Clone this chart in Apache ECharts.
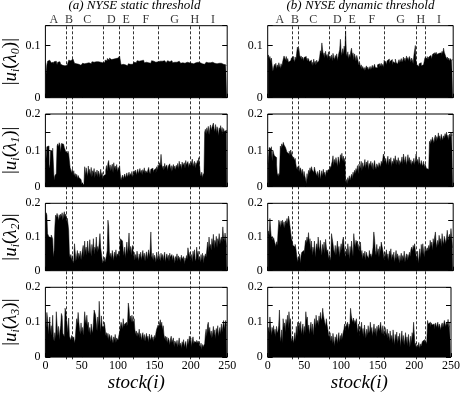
<!DOCTYPE html>
<html>
<head>
<meta charset="utf-8">
<script src="https://cdn.jsdelivr.net/npm/echarts@6/dist/echarts.min.js"></script>
<style>
html, body { margin: 0; padding: 0; background: #fff; }
#chart { width: 463px; height: 393px; }
</style>
</head>
<body>
<div id="chart"></div>
<script>
/* |u_i(lambda_0)| */
var staticL0 = [
  .066,.045,.062,.070,.068,.072,.069,.071,.067,.070, .068,.064,.069,.066,.070,.067,.063,.068,.065,.069,
  .066,.064,.067,.062,.065,.063,.061,.064,.060,.062, .063,.061,.072,.074,.071,.073,.070,.074,.072,.073,
  .066,.063,.065,.062,.066,.064,.063,.066,.062,.065, .064,.066,.063,.065,.067,.064,.066,.063,.065,.067,
  .066,.068,.065,.067,.069,.066,.068,.070,.067,.069, .068,.066,.069,.067,.070,.068,.066,.069,.067,.068,
  .070,.068,.072,.074,.071,.075,.073,.072,.076,.074, .073,.075,.072,.074,.076,.073,.075,.077,.074,.076,
  .078,.075,.080,.077,.063,.061,.064,.062,.065,.063, .062,.064,.061,.063,.065,.062,.064,.063,.061,.064,
  .063,.065,.068,.070,.067,.069,.071,.068,.070,.072, .069,.071,.068,.070,.072,.069,.067,.070,.068,.071,
  .069,.067,.070,.068,.066,.069,.071,.068,.070,.067, .069,.068,.070,.067,.069,.071,.068,.070,.069,.068,
  .070,.068,.069,.071,.068,.070,.067,.069,.071,.068, .069,.070,.068,.071,.069,.067,.070,.068,.069,.070,
  .068,.069,.067,.070,.068,.069,.066,.068,.067,.069, .068,.066,.069,.067,.068,.066,.069,.067,.065,.068,
  .066,.068,.067,.065,.068,.066,.067,.069,.066,.068, .067,.065,.067,.066,.068,.065,.067,.066,.064,.067,
  .066,.068,.065,.067,.066,.064,.067,.065,.066,.068, .065,.067,.066,.064,.066,.065,.067,.064,.066,.065,
  .064,.066,.063,.065,.064,.062,.064,.063,.061,.062
];
var dynamicL0 = [
  .078,.082,.074,.079,.070,.076,.062,.050,.058,.064, .060,.066,.055,.063,.058,.067,.061,.056,.065,.059,
  .068,.074,.080,.077,.072,.079,.070,.075,.068,.066, .071,.069,.076,.073,.079,.074,.068,.078,.072,.085,
  .097,.090,.094,.082,.076,.080,.073,.078,.071,.077, .074,.079,.072,.076,.070,.075,.069,.066,.072,.063,
  .068,.061,.074,.065,.070,.062,.072,.067,.064,.071, .078,.090,.084,.105,.092,.080,.086,.076,.089,.079,
  .083,.075,.088,.072,.080,.074,.082,.070,.085,.077, .073,.081,.076,.084,.071,.079,.086,.092,.112,.088,
  .081,.094,.083,.099,.090,.128,.085,.079,.088,.074, .083,.077,.089,.095,.080,.086,.072,.084,.078,.070,
  .081,.075,.069,.062,.066,.058,.063,.055,.060,.054, .058,.052,.057,.061,.055,.059,.053,.056,.060,.054,
  .058,.062,.056,.060,.064,.058,.061,.057,.063,.060, .065,.059,.062,.066,.060,.064,.058,.072,.066,.070,
  .063,.071,.068,.074,.065,.070,.067,.073,.062,.069, .072,.066,.074,.068,.071,.064,.069,.073,.067,.070,
  .075,.068,.072,.078,.070,.076,.069,.080,.073,.077, .071,.079,.074,.068,.076,.072,.065,.081,.091,.100,
  .068,.063,.066,.060,.065,.062,.067,.061,.064,.063, .066,.062,.077,.080,.075,.079,.073,.078,.076,.081,
  .078,.074,.083,.080,.086,.082,.079,.087,.083,.081, .085,.088,.082,.086,.080,.089,.084,.095,.087,.083,
  .081,.074,.078,.072,.076,.070,.075,.073,.071,.074
];
/* |u_i(lambda_1)| */
var staticL1 = [
  .068,.072,.110,.105,.112,.062,.048,.100,.104,.098, .106,.101,.018,.030,.025,.036,.112,.118,.109,.121,
  .115,.095,.119,.123,.117,.120,.108,.112,.096,.100, .092,.098,.090,.094,.052,.046,.038,.048,.032,.044,
  .030,.036,.026,.034,.022,.031,.025,.028,.020,.024, .008,.012,.006,.010,.055,.030,.052,.040,.028,.057,
  .035,.048,.030,.053,.026,.044,.038,.050,.024,.041, .032,.046,.027,.043,.036,.025,.048,.030,.039,.022,
  .030,.026,.034,.045,.058,.042,.065,.072,.048,.060, .043,.055,.062,.038,.066,.050,.057,.045,.061,.040,
  .053,.046,.058,.035,.018,.025,.032,.022,.028,.035, .024,.031,.038,.026,.033,.040,.028,.036,.030,.042,
  .027,.034,.044,.038,.046,.032,.041,.048,.035,.043, .050,.037,.045,.033,.047,.040,.052,.036,.044,.049,
  .038,.046,.053,.041,.035,.048,.043,.051,.039,.045, .042,.050,.037,.055,.046,.060,.052,.066,.058,.089,
  .062,.050,.057,.045,.064,.053,.048,.060,.044,.056, .051,.063,.047,.058,.042,.055,.061,.049,.057,.046,
  .059,.052,.064,.048,.070,.055,.062,.047,.068,.058, .053,.066,.050,.072,.060,.056,.069,.052,.064,.058,
  .062,.067,.076,.055,.063,.070,.051,.066,.059,.072, .064,.080,.058,.035,.028,.040,.024,.036,.030,.150,
  .158,.145,.162,.150,.166,.142,.158,.170,.155,.163, .168,.175,.160,.152,.171,.148,.165,.158,.140,.162,
  .155,.168,.150,.163,.145,.160,.152,.148,.155,.150
];
var dynamicL1 = [
  .062,.078,.108,.112,.104,.110,.070,.100,.092,.085, .088,.080,.060,.030,.036,.028,.040,.112,.105,.118,
  .110,.122,.115,.120,.108,.113,.095,.100,.090,.098, .086,.101,.092,.088,.076,.082,.072,.078,.062,.048,
  .055,.044,.058,.040,.052,.046,.035,.048,.025,.042, .030,.022,.008,.036,.020,.045,.038,.052,.041,.055,
  .046,.050,.039,.054,.044,.049,.030,.042,.024,.038, .046,.020,.035,.044,.028,.048,.032,.040,.026,.045,
  .038,.046,.042,.048,.056,.050,.062,.070,.085,.058, .075,.064,.080,.068,.055,.082,.072,.060,.088,.076,
  .092,.070,.084,.065,.078,.010,.020,.008,.025,.015, .030,.018,.026,.034,.022,.040,.030,.045,.036,.050,
  .042,.058,.035,.062,.048,.055,.070,.044,.066,.052, .060,.075,.050,.068,.057,.072,.046,.064,.058,.070,
  .052,.066,.045,.061,.072,.055,.048,.063,.058,.052, .066,.060,.054,.070,.062,.075,.090,.082,.068,.078,
  .060,.072,.084,.058,.076,.065,.080,.055,.070,.062, .078,.068,.085,.060,.074,.066,.080,.058,.072,.064,
  .070,.082,.061,.090,.075,.066,.083,.059,.072,.088, .068,.080,.062,.074,.058,.070,.064,.078,.060,.072,
  .090,.068,.075,.060,.082,.066,.058,.072,.062,.056, .070,.052,.062,.058,.050,.054,.048,.052,.125,.118,
  .130,.122,.136,.128,.120,.135,.142,.126,.138,.130, .148,.132,.140,.126,.144,.135,.128,.140,.133,.146,
  .138,.150,.134,.142,.128,.145,.137,.150,.140,.143
];
/* |u_i(lambda_2)| */
var staticL2 = [
  .152,.172,.165,.110,.108,.100,.104,.098,.106,.102, .095,.040,.060,.130,.165,.158,.170,.162,.148,.166,
  .155,.168,.160,.172,.150,.165,.175,.158,.168,.145, .156,.140,.120,.052,.038,.048,.030,.045,.022,.030,
  .080,.055,.028,.045,.060,.035,.052,.040,.058,.032, .048,.062,.075,.040,.088,.055,.070,.045,.088,.060,
  .050,.092,.065,.042,.078,.058,.095,.048,.070,.062, .100,.055,.072,.060,.082,.110,.068,.052,.035,.022,
  .030,.040,.025,.035,.045,.060,.150,.132,.058,.040, .052,.035,.060,.045,.030,.055,.042,.062,.038,.050,
  .044,.058,.036,.095,.090,.092,.088,.060,.045,.070, .038,.062,.085,.048,.075,.112,.058,.072,.045,.068,
  .075,.040,.055,.030,.048,.035,.058,.042,.028,.050, .036,.055,.032,.046,.060,.038,.052,.028,.045,.056,
  .034,.048,.062,.040,.058,.115,.045,.035,.052,.030, .046,.038,.025,.055,.040,.032,.050,.045,.028,.052,
  .038,.048,.030,.044,.055,.026,.040,.050,.034,.046, .028,.052,.040,.035,.048,.030,.045,.038,.022,.042,
  .036,.050,.028,.044,.032,.040,.025,.046,.034,.030, .042,.020,.038,.028,.045,.035,.068,.070,.040,.055,
  .030,.048,.025,.058,.040,.062,.035,.028,.070,.045, .058,.032,.040,.025,.048,.030,.052,.022,.045,.035,
  .050,.040,.062,.085,.055,.100,.070,.078,.060,.095, .075,.108,.065,.090,.080,.102,.068,.095,.085,.110,
  .078,.092,.100,.085,.130,.098,.088,.112,.095,.070
];
var dynamicL2 = [
  .112,.118,.105,.155,.120,.095,.102,.090,.098,.088, .080,.072,.086,.075,.118,.150,.142,.128,.148,.135,
  .150,.130,.145,.125,.148,.140,.155,.138,.162,.150, .132,.128,.095,.088,.075,.080,.070,.078,.065,.048,
  .025,.040,.030,.050,.022,.045,.055,.050,.060,.048, .070,.090,.082,.100,.085,.113,.078,.095,.060,.088,
  .045,.070,.055,.088,.040,.065,.080,.060,.100,.072, .058,.090,.066,.045,.078,.060,.085,.050,.093,.070,
  .055,.062,.035,.048,.030,.042,.110,.095,.080,.062, .050,.075,.045,.068,.088,.055,.072,.040,.065,.080,
  .060,.090,.100,.070,.052,.038,.065,.045,.080,.058, .035,.072,.050,.088,.062,.042,.110,.085,.070,.090,
  .082,.088,.060,.078,.055,.085,.045,.060,.035,.052, .040,.058,.030,.055,.045,.048,.036,.060,.042,.050,
  .038,.052,.070,.115,.095,.060,.045,.078,.052,.065, .040,.072,.055,.085,.090,.062,.048,.030,.055,.040,
  .062,.035,.050,.028,.058,.045,.065,.032,.048,.038, .055,.025,.042,.060,.035,.050,.030,.045,.022,.040,
  .052,.028,.045,.035,.058,.025,.040,.050,.030,.048, .036,.055,.042,.062,.070,.058,.075,.065,.080,.060,
  .045,.030,.058,.022,.042,.065,.035,.078,.050,.080, .060,.040,.072,.055,.050,.068,.058,.075,.062,.090,
  .070,.085,.060,.095,.078,.100,.115,.082,.068,.090, .075,.105,.085,.095,.070,.110,.088,.078,.102,.092,
  .080,.098,.120,.090,.085,.108,.095,.125,.100,.068
];
/* |u_i(lambda_3)| */
var staticL3 = [
  .100,.085,.128,.110,.065,.095,.115,.070,.090,.062, .120,.058,.045,.070,.052,.130,.125,.060,.088,.050,
  .075,.090,.125,.118,.068,.072,.058,.140,.132,.110, .105,.070,.112,.060,.055,.048,.062,.050,.045,.058,
  .040,.052,.048,.110,.095,.128,.100,.080,.065,.098, .072,.085,.062,.090,.130,.108,.095,.120,.088,.100,
  .070,.085,.062,.095,.078,.068,.100,.135,.140,.120, .098,.075,.115,.088,.160,.105,.072,.118,.090,.095,
  .082,.100,.085,.062,.070,.055,.068,.050,.065,.058, .045,.062,.050,.040,.058,.048,.065,.042,.055,.060,
  .048,.062,.070,.085,.100,.092,.080,.110,.088,.095, .092,.100,.088,.098,.155,.140,.108,.118,.100,.120,
  .105,.095,.110,.080,.065,.075,.058,.070,.062,.080, .055,.068,.048,.062,.070,.050,.065,.045,.058,.068,
  .052,.060,.042,.066,.055,.048,.064,.050,.058,.045, .062,.055,.070,.080,.075,.092,.085,.098,.107,.088,
  .100,.078,.090,.065,.052,.060,.045,.058,.040,.055, .048,.035,.052,.060,.042,.038,.055,.030,.046,.050,
  .036,.048,.028,.042,.055,.032,.040,.025,.044,.035, .050,.028,.038,.045,.022,.040,.052,.035,.060,.042,
  .055,.030,.048,.058,.038,.045,.050,.042,.048,.040, .046,.050,.035,.028,.040,.022,.036,.030,.025,.038,
  .065,.080,.058,.092,.100,.070,.085,.060,.075,.055, .070,.088,.062,.078,.052,.082,.068,.090,.058,.075,
  .085,.065,.095,.072,.088,.105,.080,.098,.105,.090
];
var dynamicL3 = [
  .078,.085,.070,.115,.110,.062,.085,.072,.090,.065, .080,.058,.088,.068,.075,.090,.135,.060,.045,.078,
  .040,.110,.085,.098,.072,.108,.090,.120,.082,.130, .095,.110,.055,.045,.060,.040,.052,.070,.045,.088,
  .060,.100,.085,.098,.075,.102,.065,.080,.095,.062, .088,.070,.130,.105,.115,.078,.092,.065,.085,.100,
  .070,.095,.062,.088,.110,.082,.120,.095,.105,.090, .118,.100,.128,.105,.112,.140,.120,.108,.098,.088,
  .110,.092,.080,.065,.055,.070,.045,.060,.038,.068, .050,.032,.058,.045,.065,.038,.055,.070,.042,.062,
  .048,.068,.052,.072,.080,.095,.075,.090,.085,.100, .078,.095,.088,.140,.120,.108,.100,.112,.095,.105,
  .098,.110,.085,.070,.095,.060,.088,.075,.100,.065, .082,.058,.092,.070,.055,.080,.062,.090,.068,.075,
  .100,.072,.085,.060,.078,.095,.068,.082,.058,.088, .070,.092,.075,.085,.100,.080,.065,.090,.072,.060,
  .085,.070,.062,.080,.055,.068,.045,.075,.050,.062, .040,.078,.055,.035,.065,.048,.072,.038,.060,.045,
  .068,.030,.055,.075,.042,.062,.035,.050,.070,.040, .058,.032,.065,.045,.028,.060,.040,.070,.055,.100,
  .095,.030,.040,.022,.035,.028,.042,.025,.038,.030, .035,.045,.040,.050,.042,.048,.038,.045,.105,.095,
  .090,.100,.085,.098,.092,.088,.095,.080,.092,.098, .085,.090,.100,.082,.095,.088,.078,.092,.098,.085,
  .090,.105,.095,.088,.100,.092,.108,.085,.098,.100
];

/* 行业分区 */
var sectorEdges = [0, 33, 40.5, 82.5, 105, 123, 157.5, 200.5, 212, 250];
var sectorNames = ["A", "B", "C", "D", "E", "F", "G", "H", "I"];
var titles = ["(a) NYSE static threshold", "(b) NYSE dynamic threshold"];
var lambdaIdx = ["0", "1", "2", "3"];
var yMax = [0.138, 0.2, 0.2, 0.2];
var xLabelName = "stock(i)";

var panels = [
  [staticL0, dynamicL0],
  [staticL1, dynamicL1],
  [staticL2, dynamicL2],
  [staticL3, dynamicL3],
];

/* 布局 */
var colLeft = [41.7, 267.7];
var colWidth = 185.5;
var rowTop = [25.7, 114, 203.3, 287.3];
var rowHeight = [72, 72.7, 67.4, 72];
var font = "Liberation Serif";

function yLabel(v) {
  var t = v * 10;
  if (Math.abs(t - Math.round(t)) > 1e-6) return "";
  return v === 0 ? "0" : v.toFixed(1);
}

var grid = [], xAxis = [], yAxis = [], series = [];

panels.forEach(function (row, r) {
  row.forEach(function (values, c) {
    var g = grid.length;
    grid.push({
      left: colLeft[c], top: rowTop[r], width: colWidth, height: rowHeight[r],
      show: true, borderColor: "#000", borderWidth: 1, backgroundColor: "transparent",
    });
    xAxis.push({
      type: "value", gridIndex: g, min: 0, max: 250, interval: 50,
      axisLine: { show: false },
      splitLine: { show: false },
      axisTick: { show: true, inside: true, length: 4, lineStyle: { color: "#000" } },
      axisLabel: { show: r === 3, margin: 3, color: "#000", fontFamily: font, fontSize: 12 },
      name: r === 3 ? xLabelName : "",
      nameLocation: "middle",
      nameGap: 10,
      nameTextStyle: { fontFamily: font, fontStyle: "italic", fontSize: 19, color: "#000" },
    });
    var yl = {
      type: "value", gridIndex: g, min: 0, max: yMax[r], interval: 0.05,
      axisLine: { show: false },
      splitLine: { show: false },
      axisTick: { show: true, inside: true, length: 5, lineStyle: { color: "#000" } },
      axisLabel: { show: true, margin: 5, color: "#000", fontFamily: font, fontSize: 12, formatter: yLabel },
    };
    if (c === 0) {
      yl.name = "{t||}{n|u}{s|i}{t|(}{n|λ}{s|" + lambdaIdx[r] + "}{t|)|}";
      yl.nameLocation = "middle";
      yl.nameRotate = 90;
      yl.nameGap = 18;
      yl.nameTextStyle = {
        rich: {
          t: { fontFamily: font, fontSize: 19, color: "#000", lineHeight: 22 },
          n: { fontFamily: font, fontStyle: "italic", fontSize: 19, color: "#000", lineHeight: 22 },
          s: { fontFamily: font, fontStyle: "italic", fontSize: 12, color: "#000", lineHeight: 22, verticalAlign: "bottom" },
        },
      };
    }
    yAxis.push(yl);
    yAxis.push({
      type: "value", gridIndex: g, min: 0, max: yMax[r], interval: 0.05, position: "right",
      axisLine: { show: false },
      splitLine: { show: false },
      axisTick: { show: true, inside: true, length: 5, lineStyle: { color: "#000" } },
      axisLabel: { show: false },
    });
    // 每只股票一根柱：用阶梯填充画成连续实心柱
    series.push({
      type: "line",
      xAxisIndex: g,
      yAxisIndex: yAxis.length - 2,
      step: "middle",
      showSymbol: false,
      symbol: "none",
      lineStyle: { color: "#000", width: 0.5 },
      areaStyle: { color: "#000", opacity: 1 },
      data: values.map(function (v, i) { return [i + 0.5, v]; }),
    });
  });
});

/* 分区虚线 + 字母 */
var mids = sectorNames.map(function (n, k) {
  return [(sectorEdges[k] + sectorEdges[k + 1]) / 2, 1];
});
[0, 1].forEach(function (c) {
  var g = grid.length;
  grid.push({ left: colLeft[c], top: rowTop[0], width: colWidth, height: rowTop[3] + rowHeight[3] - rowTop[0] });
  xAxis.push({ type: "value", gridIndex: g, min: 0, max: 250, show: false });
  yAxis.push({ type: "value", gridIndex: g, min: 0, max: 1, show: false });
  series.push({
    type: "scatter",
    xAxisIndex: g,
    yAxisIndex: yAxis.length - 1,
    symbolSize: 0,
    silent: true,
    clip: false,
    data: mids,
    label: {
      show: true, position: "top", distance: 0,
      color: "#000", fontFamily: font, fontSize: 12,
      formatter: function (p) { return sectorNames[p.dataIndex]; },
    },
    markLine: {
      silent: true,
      symbol: "none",
      label: { show: false },
      lineStyle: { color: "#000", type: [3, 2], width: 0.8 },
      data: sectorEdges.slice(1, -1).map(function (v) { return { xAxis: v }; }),
    },
  });
});

var option = {
  backgroundColor: "#fff",
  animation: false,
  title: titles.map(function (t, c) {
    return {
      text: t, left: colLeft[c] + colWidth / 2, top: -1, textAlign: "center", padding: 0,
      textStyle: { fontFamily: font, fontStyle: "italic", fontWeight: "normal", fontSize: 13, color: "#000" },
    };
  }),
  grid: grid,
  xAxis: xAxis,
  yAxis: yAxis,
  series: series,
};

var myChart = echarts.init(document.getElementById("chart"));
myChart.setOption(option);
</script>
</body>
</html>
